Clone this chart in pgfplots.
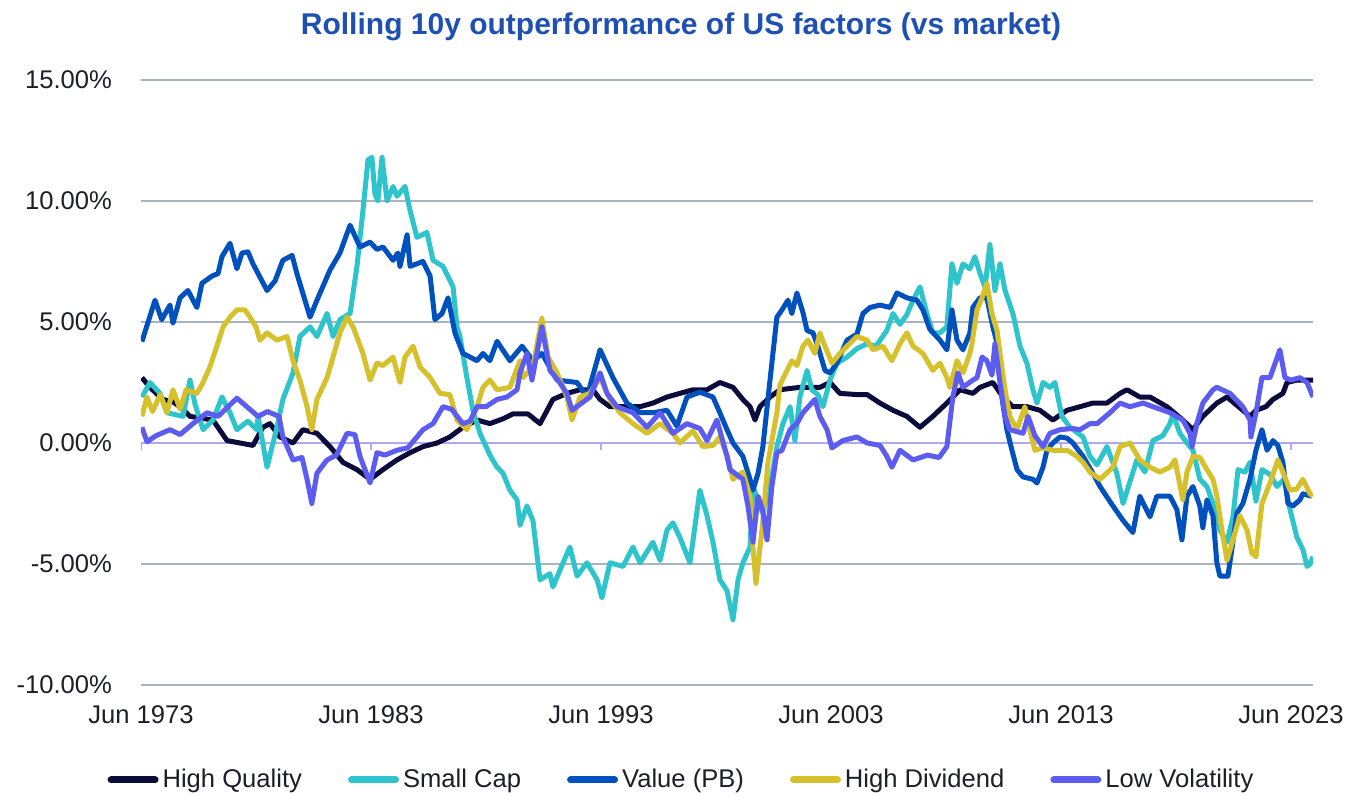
\documentclass[border=0pt]{standalone}
\usepackage{pgfplots}
\pgfplotsset{compat=1.18}
\usepackage{fontspec}
\setmainfont{Liberation Sans}
\definecolor{hq}{RGB}{12,12,60}
\definecolor{sc}{RGB}{46,196,204}
\definecolor{val}{RGB}{0,80,190}
\definecolor{hd}{RGB}{214,192,44}
\definecolor{lv}{RGB}{92,92,240}
\definecolor{gridc}{RGB}{168,180,192}
\definecolor{zeroc}{RGB}{176,168,240}
\definecolor{titlec}{RGB}{30,80,180}
\definecolor{txt}{RGB}{30,30,40}
\begin{document}
\begin{tikzpicture}
\begin{axis}[
  scale only axis, width=586pt, height=302.5pt,
  xmin=0, xmax=50.96, ymin=-10, ymax=15,
  axis line style={draw=none},
  major tick length=0pt,
  xtick={0,10,20,30,40,50},
  xticklabels={Jun 1973,Jun 1983,Jun 1993,Jun 2003,Jun 2013,Jun 2023},
  ytick={-10,-5,5,10,15},
  yticklabels={-10.00\%,-5.00\%,5.00\%,10.00\%,15.00\%},
  extra y ticks={0}, extra y tick labels={0.00\%},
  extra y tick style={grid style={zeroc,line width=1pt}},
  ymajorgrids, grid style={gridc, line width=1.1pt},
  tick label style={font=\fontsize{12.8}{14}\selectfont, text=txt},
  yticklabel style={xshift=-11pt},
  xticklabel style={yshift=-7pt},
  legend columns=5,
  legend cell align=left,
  legend style={at={(0.462,-0.157)}, anchor=center, draw=none, fill=none,
    font=\fontsize{12.8}{14}\selectfont, text=txt,
    /tikz/every even column/.append style={column sep=21pt}},
  legend image code/.code={\draw[#1, line width=3.5pt, line cap=round] (0pt,0pt) -- (22pt,0pt);},
]
\draw[zeroc, line width=0.8pt] (axis cs:0,0) -- (axis cs:0,-0.3);
\draw[zeroc, line width=0.8pt] (axis cs:10,0) -- (axis cs:10,-0.3);
\draw[zeroc, line width=0.8pt] (axis cs:20,0) -- (axis cs:20,-0.3);
\draw[zeroc, line width=0.8pt] (axis cs:30,0) -- (axis cs:30,-0.3);
\draw[zeroc, line width=0.8pt] (axis cs:40,0) -- (axis cs:40,-0.3);
\draw[zeroc, line width=0.8pt] (axis cs:50,0) -- (axis cs:50,-0.3);

\addplot[hq, line width=2.5pt, line join=round] coordinates {
(0.04,2.7)(0.39,2.3)(0.83,1.9)(0.96,1.8)(1.39,1.7)(1.70,1.5)(2.13,1.1)(3.13,0.95)(3.74,0.1)(4.30,0.0)(4.87,-0.1)(5.30,0.65)(5.61,0.8)(6.04,0.25)(6.61,0.0)(7.04,0.55)(7.65,0.4)(8.22,-0.15)(8.78,-0.8)(9.39,-1.1)(9.96,-1.5)(10.52,-1.1)(11.13,-0.7)(11.70,-0.4)(12.26,-0.15)(12.87,0.0)(13.43,0.25)(14.00,0.65)(14.61,0.95)(15.17,0.8)(15.74,1.0)(16.17,1.2)(16.83,1.2)(17.35,0.8)(17.91,1.8)(18.52,2.05)(19.09,2.2)(19.65,2.2)(19.96,1.8)(20.39,1.5)(21.13,1.5)(21.70,1.5)(22.26,1.65)(22.87,1.9)(23.43,2.05)(24.00,2.2)(24.61,2.2)(25.17,2.5)(25.74,2.3)(26.17,1.8)(26.48,1.5)(26.70,0.95)(26.91,1.5)(27.35,1.9)(27.78,2.2)(28.65,2.3)(29.52,2.3)(29.96,2.5)(30.39,2.05)(31.13,2.0)(31.57,2.0)(32.13,1.65)(32.70,1.35)(33.30,1.1)(33.87,0.65)(34.43,1.1)(35.04,1.65)(35.61,2.2)(36.17,2.05)(36.48,2.3)(37.04,2.5)(37.48,1.9)(37.91,1.5)(38.52,1.5)(39.09,1.35)(39.65,0.95)(40.26,1.35)(40.83,1.5)(41.39,1.65)(42.00,1.65)(42.57,2.05)(42.87,2.2)(43.43,1.9)(43.87,1.9)(44.61,1.5)(45.30,0.95)(45.74,0.55)(46.17,1.1)(46.78,1.65)(47.22,1.9)(48.22,1.1)(48.48,1.35)(48.91,1.5)(49.22,1.8)(49.65,2.05)(49.83,2.5)(50.26,2.6)(50.96,2.6)
};
\addlegendentry{High Quality}

\addplot[sc, line width=2.5pt, line join=round] coordinates {
(0.04,1.9)(0.39,2.5)(0.83,2.05)(1.13,1.25)(1.83,1.1)(2.13,2.6)(2.35,1.6)(2.70,0.55)(3.13,0.95)(3.52,1.9)(3.87,1.25)(4.17,0.55)(4.65,0.9)(5.04,0.55)(5.09,1.1)(5.48,-1.0)(5.91,0.65)(6.17,1.8)(6.61,2.9)(6.91,4.4)(7.35,4.8)(7.65,4.4)(8.09,5.35)(8.35,4.4)(8.65,5.1)(9.09,5.35)(9.39,7.3)(9.65,9.6)(9.87,11.7)(10.04,11.8)(10.17,10.3)(10.30,10.0)(10.48,11.8)(10.70,10.0)(10.96,10.6)(11.13,10.2)(11.48,10.6)(11.70,9.6)(12.00,8.5)(12.43,8.7)(12.70,7.55)(13.13,7.3)(13.57,6.45)(13.74,4.8)(13.87,4.4)(14.17,2.7)(14.43,1.35)(14.74,0.4)(15.17,-0.5)(15.48,-1.0)(15.74,-1.25)(16.04,-1.95)(16.35,-2.35)(16.48,-3.4)(16.78,-2.6)(17.04,-3.2)(17.35,-5.65)(17.78,-5.4)(17.91,-5.95)(18.35,-4.95)(18.65,-4.3)(18.96,-5.5)(19.39,-4.95)(19.83,-5.65)(20.04,-6.4)(20.39,-4.95)(20.96,-5.1)(21.39,-4.3)(21.70,-4.95)(22.26,-4.1)(22.57,-4.85)(22.87,-3.6)(23.13,-3.3)(23.43,-3.9)(23.87,-4.95)(24.30,-1.95)(24.61,-3.0)(24.87,-4.1)(25.17,-5.65)(25.48,-6.1)(25.74,-7.3)(25.96,-5.65)(26.17,-4.95)(26.48,-4.3)(26.61,-1.8)(27.04,-2.9)(27.35,-1.8)(27.65,-0.15)(27.91,0.8)(28.22,1.5)(28.43,0.1)(28.65,1.9)(28.96,3.0)(29.17,2.2)(29.43,2.0)(29.65,1.5)(29.96,2.6)(30.26,3.3)(30.70,3.55)(31.13,3.9)(31.57,4.1)(31.96,4.0)(32.43,4.65)(32.70,5.35)(33.00,4.9)(33.30,5.3)(33.57,5.9)(33.87,6.45)(34.17,5.35)(34.43,4.55)(34.74,4.55)(35.04,4.8)(35.26,7.4)(35.48,6.6)(35.74,7.4)(36.04,7.2)(36.26,7.7)(36.48,7.0)(36.70,6.45)(36.91,8.2)(37.13,6.3)(37.35,7.4)(37.57,6.3)(37.91,5.35)(38.22,4.0)(38.52,3.3)(38.78,2.2)(38.96,1.65)(39.22,2.5)(39.52,2.3)(39.74,2.5)(40.04,1.1)(40.39,0.65)(40.96,0.25)(41.26,-0.55)(41.57,-0.9)(42.00,-0.15)(42.43,-1.25)(42.70,-2.5)(43.00,-1.6)(43.30,-0.7)(43.65,-1.2)(44.00,0.1)(44.43,0.3)(44.74,0.8)(44.87,1.2)(45.17,0.4)(45.48,0.0)(45.74,-0.3)(46.04,-1.5)(46.35,-1.8)(46.61,-2.5)(46.91,-3.6)(47.22,-4.1)(47.48,-3.05)(47.70,-1.1)(48.00,-1.2)(48.22,-0.8)(48.48,-2.4)(48.74,-1.1)(49.09,-1.3)(49.39,-1.8)(49.70,-1.5)(49.96,-2.75)(50.26,-3.9)(50.52,-4.4)(50.70,-5.1)(50.83,-5.0)(50.96,-4.7)
};
\addlegendentry{Small Cap}

\addplot[val, line width=2.5pt, line join=round] coordinates {
(0.04,4.19)(0.61,5.9)(0.90,5.1)(1.26,5.7)(1.39,4.95)(1.70,6.0)(2.04,6.3)(2.43,5.6)(2.65,6.6)(3.09,6.9)(3.35,7.0)(3.52,7.7)(3.87,8.25)(4.17,7.2)(4.39,7.85)(4.65,7.9)(4.87,7.4)(5.48,6.3)(5.83,6.7)(6.17,7.55)(6.57,7.75)(6.78,7.0)(7.35,5.2)(7.65,5.9)(8.22,7.15)(8.65,7.85)(9.09,9.0)(9.52,8.1)(9.96,8.3)(10.26,8.0)(10.52,8.1)(10.96,7.55)(11.17,7.85)(11.26,7.3)(11.57,8.6)(11.70,7.3)(12.26,7.5)(12.57,6.9)(12.78,5.1)(13.09,5.35)(13.35,6.0)(13.65,4.55)(14.00,3.7)(14.61,3.4)(14.87,3.7)(15.17,3.4)(15.48,4.2)(16.04,3.4)(16.57,4.0)(17.04,3.4)(17.43,3.7)(18.09,2.6)(18.96,2.5)(19.39,1.9)(19.96,3.85)(20.52,2.7)(21.13,1.65)(21.70,1.25)(22.26,1.25)(22.87,1.35)(23.30,0.7)(23.74,1.9)(24.30,2.1)(24.87,1.9)(25.17,1.25)(25.48,0.55)(25.74,0.0)(26.17,-0.55)(26.48,-1.5)(26.61,-1.95)(26.83,-1.25)(27.04,-0.15)(27.35,2.6)(27.65,5.2)(27.87,5.5)(28.13,5.9)(28.30,5.35)(28.52,6.2)(28.78,5.4)(28.96,4.65)(29.22,4.55)(29.43,4.0)(29.74,3.0)(29.96,2.9)(30.26,3.3)(30.70,4.25)(31.13,4.5)(31.39,5.35)(31.70,5.6)(32.13,5.7)(32.57,5.6)(32.87,6.2)(33.30,6.0)(33.74,5.9)(34.00,5.5)(34.30,4.7)(34.74,4.25)(35.04,3.85)(35.26,5.5)(35.48,4.25)(35.74,3.85)(36.04,4.55)(36.17,5.6)(36.48,6.0)(36.78,6.0)(37.04,4.8)(37.26,4.0)(37.43,1.9)(37.65,0.55)(37.87,-0.3)(38.09,-1.1)(38.35,-1.4)(38.78,-1.5)(38.96,-1.65)(39.22,-1.0)(39.39,-0.3)(39.65,0.0)(39.96,0.25)(40.26,0.2)(40.52,0.0)(40.96,-0.55)(41.39,-1.25)(41.70,-1.8)(42.26,-2.6)(42.70,-3.2)(43.13,-3.7)(43.43,-2.2)(43.87,-3.05)(44.17,-2.2)(44.74,-2.2)(45.04,-2.75)(45.26,-4.0)(45.48,-2.2)(45.74,-1.8)(46.04,-2.6)(46.17,-3.5)(46.35,-2.35)(46.61,-3.0)(46.78,-4.95)(46.91,-5.5)(47.26,-5.5)(47.43,-4.4)(47.65,-2.9)(47.91,-2.5)(48.22,-1.5)(48.48,-0.3)(48.74,0.55)(48.96,-0.3)(49.22,0.1)(49.43,-0.1)(49.65,-0.8)(49.87,-2.5)(50.09,-2.6)(50.39,-2.35)(50.52,-2.1)(50.91,-2.2)
};
\addlegendentry{Value (PB)}

\addplot[hd, line width=2.5pt, line join=round] coordinates {
(0.04,1.1)(0.26,1.9)(0.50,1.3)(0.83,2.0)(1.13,1.25)(1.39,2.2)(1.70,1.4)(1.96,2.2)(2.43,2.05)(2.70,2.5)(3.00,3.15)(3.30,4.0)(3.57,4.8)(3.87,5.2)(4.17,5.5)(4.52,5.5)(4.74,5.2)(5.00,4.8)(5.17,4.25)(5.48,4.55)(5.91,4.25)(6.35,4.4)(6.61,3.4)(6.91,2.6)(7.22,1.5)(7.43,0.55)(7.65,1.8)(8.09,2.7)(8.35,3.55)(8.65,4.55)(8.96,5.2)(9.22,4.8)(9.65,3.7)(9.96,2.6)(10.26,3.3)(10.52,3.2)(10.96,3.55)(11.26,2.5)(11.48,3.55)(11.83,4.0)(12.13,3.15)(12.57,2.7)(13.00,2.05)(13.43,2.0)(13.74,0.95)(14.17,0.55)(14.61,1.5)(14.87,2.3)(15.17,2.6)(15.48,2.2)(16.04,2.3)(16.48,3.4)(16.61,2.7)(17.04,3.15)(17.43,5.15)(17.70,3.55)(18.09,2.9)(18.52,1.9)(18.74,0.95)(19.09,1.9)(19.52,2.05)(19.96,2.7)(20.39,1.8)(20.83,1.25)(21.39,0.8)(22.00,0.4)(22.57,0.8)(23.13,0.4)(23.43,0.0)(24.00,0.5)(24.43,-0.15)(24.87,-0.1)(25.17,0.25)(25.48,-0.5)(25.74,-1.5)(26.17,-1.2)(26.48,-2.2)(26.61,-4.3)(26.74,-5.8)(27.00,-3.6)(27.26,-0.8)(27.65,1.25)(27.78,2.4)(28.09,3.0)(28.30,3.4)(28.52,3.2)(28.78,4.0)(29.00,4.25)(29.30,3.7)(29.52,4.55)(29.74,4.0)(30.04,3.3)(30.39,3.7)(30.70,4.0)(31.13,4.4)(31.57,4.25)(31.83,3.85)(32.26,4.0)(32.65,3.4)(33.00,4.1)(33.30,4.55)(33.57,4.0)(34.00,3.7)(34.43,3.0)(34.74,3.3)(35.04,2.7)(35.17,2.3)(35.48,3.4)(35.74,2.9)(36.04,3.7)(36.13,4.1)(36.35,5.5)(36.57,6.0)(36.78,6.6)(37.00,5.35)(37.22,4.65)(37.35,3.7)(37.57,2.2)(37.78,1.1)(38.09,0.55)(38.43,1.5)(38.57,0.8)(38.87,-0.3)(39.22,-0.2)(39.65,-0.3)(40.26,-0.3)(40.70,-0.55)(40.96,-0.8)(41.26,-1.2)(41.70,-1.5)(42.26,-1.0)(42.57,-0.15)(43.00,0.0)(43.43,-0.7)(43.87,-1.0)(44.30,-1.2)(44.74,-1.0)(44.96,-0.7)(45.30,-2.35)(45.48,-1.2)(45.74,-0.55)(46.04,-0.6)(46.35,-1.1)(46.61,-1.5)(46.78,-2.2)(47.00,-3.6)(47.22,-4.85)(47.48,-4.0)(47.78,-3.0)(48.09,-3.6)(48.30,-4.55)(48.48,-4.7)(48.74,-2.5)(49.09,-1.65)(49.43,-0.7)(49.65,-1.2)(49.96,-1.95)(50.26,-1.9)(50.52,-1.5)(50.83,-2.1)(50.96,-2.2)
};
\addlegendentry{High Dividend}

\addplot[lv, line width=2.5pt, line join=round] coordinates {
(0.04,0.65)(0.26,0.05)(0.65,0.3)(1.26,0.55)(1.70,0.35)(2.26,0.8)(2.87,1.25)(3.35,1.1)(4.17,1.85)(4.60,1.5)(5.09,1.1)(5.50,1.3)(6.00,1.1)(6.17,0.25)(6.61,-0.7)(7.00,-0.6)(7.22,-1.5)(7.43,-2.5)(7.65,-1.25)(8.09,-0.7)(8.50,-0.5)(8.96,0.4)(9.30,0.35)(9.52,-0.55)(9.96,-1.65)(10.26,-0.4)(10.60,-0.5)(11.13,-0.3)(11.60,-0.2)(12.00,0.25)(12.26,0.55)(12.70,0.8)(13.13,1.5)(13.50,1.4)(14.00,0.8)(14.30,0.9)(14.61,1.5)(15.00,1.5)(15.48,1.8)(15.91,1.9)(16.35,2.2)(16.48,2.9)(16.78,3.7)(17.00,2.6)(17.43,4.8)(17.78,3.0)(18.13,2.6)(18.52,2.05)(18.74,1.35)(19.09,1.6)(19.52,1.9)(19.96,2.9)(20.26,2.05)(20.70,1.5)(21.39,1.25)(22.00,0.65)(22.57,1.25)(23.13,0.4)(23.74,0.8)(24.30,0.6)(24.61,0.1)(25.04,0.95)(25.48,-0.55)(25.61,-1.1)(26.17,-1.5)(26.39,-2.6)(26.61,-4.1)(26.83,-2.2)(27.04,-2.8)(27.22,-4.0)(27.43,-1.8)(27.65,-0.4)(27.87,-0.3)(28.22,0.55)(28.52,0.8)(28.78,1.25)(29.30,1.8)(29.52,1.1)(29.83,0.55)(30.04,-0.2)(30.52,0.1)(31.13,0.25)(31.57,0.0)(32.13,-0.1)(32.43,-0.55)(32.65,-1.0)(33.00,-0.3)(33.57,-0.7)(34.20,-0.5)(34.70,-0.6)(35.04,-0.15)(35.30,1.9)(35.52,2.9)(35.74,2.3)(36.17,2.6)(36.35,2.7)(36.57,3.55)(36.78,3.4)(37.00,2.8)(37.13,4.1)(37.35,2.5)(37.57,1.1)(37.78,0.55)(38.35,0.4)(38.57,1.1)(38.87,0.3)(39.22,-0.15)(39.52,0.4)(39.96,0.55)(40.50,0.6)(40.83,0.55)(41.26,0.8)(41.57,0.8)(42.13,1.25)(42.57,1.65)(43.00,1.5)(43.57,1.65)(44.00,1.5)(44.30,1.4)(44.74,1.25)(45.30,0.95)(45.61,0.4)(45.70,-0.15)(45.91,0.8)(46.17,1.65)(46.61,2.2)(46.78,2.3)(47.35,2.05)(47.91,1.5)(48.22,0.95)(48.26,0.25)(48.48,1.25)(48.74,2.7)(49.09,2.7)(49.52,3.85)(49.74,2.7)(50.00,2.6)(50.39,2.7)(50.70,2.5)(50.96,1.9)
};
\addlegendentry{Low Volatility}
\end{axis}
\node[font=\fontsize{15}{18}\selectfont\bfseries, text=titlec] at (270pt,329pt) {Rolling 10y outperformance of US factors (vs market)};
\pgfresetboundingbox
\useasboundingbox (-70.5pt,-55.5pt) rectangle (609pt,342.5pt);
\end{tikzpicture}
\end{document}
